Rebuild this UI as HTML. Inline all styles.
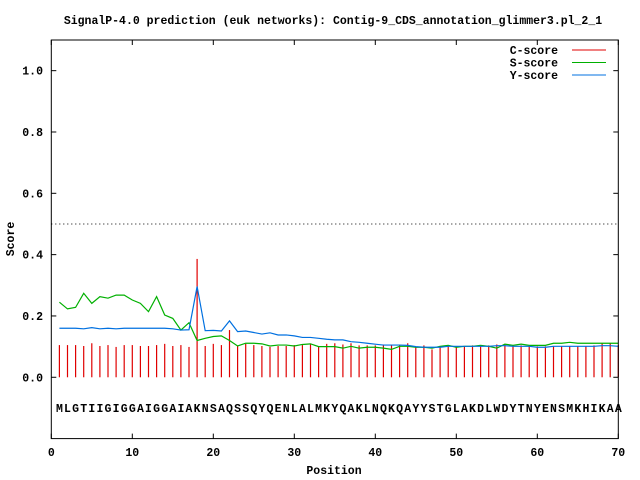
<!DOCTYPE html>
<html><head><meta charset="utf-8"><style>
html,body{margin:0;padding:0;background:#fff;}
svg{display:block;font-family:"Liberation Mono",monospace;font-weight:bold;}
</style></head><body>
<svg id="chart" width="640" height="480" viewBox="0 0 640 480" xmlns="http://www.w3.org/2000/svg">
<rect width="640" height="480" fill="#fff"/>
<text x="333" y="24" font-size="11.5" text-anchor="middle">SignalP-4.0 prediction (euk networks): Contig-9_CDS_annotation_glimmer3.pl_2_1</text>
<text x="334" y="474" font-size="11.5" text-anchor="middle">Position</text>
<text x="14" y="239" font-size="11.5" text-anchor="middle" transform="rotate(-90 14 239)">Score</text>
<g id="plot"></g>
</svg>
<script>
const sequence = "MLGTIIGIGGAIGGAIAKNSAQSSQYQENLALMKYQAKLNQKQAYYSTGLAKDLWDYTNYENSMKHIKAA";
const xTicks = [0,10,20,30,40,50,60,70];
const yTicks = [0.0,0.2,0.4,0.6,0.8,1.0];
const yTickLabels = ["0.0","0.2","0.4","0.6","0.8","1.0"];
const cScore = [0.105,0.105,0.105,0.102,0.111,0.102,0.105,0.099,0.105,0.105,0.102,0.102,0.105,0.109,0.102,0.105,0.099,0.386,0.102,0.109,0.105,0.154,0.102,0.109,0.105,0.102,0.099,0.102,0.102,0.105,0.105,0.109,0.102,0.109,0.111,0.107,0.111,0.104,0.104,0.104,0.107,0.104,0.104,0.111,0.098,0.104,0.091,0.101,0.104,0.101,0.101,0.104,0.104,0.104,0.107,0.107,0.104,0.104,0.101,0.101,0.101,0.101,0.101,0.101,0.101,0.101,0.104,0.111,0.111,0.105];
const sScore = [0.245,0.223,0.228,0.274,0.241,0.263,0.258,0.268,0.268,0.252,0.241,0.214,0.263,0.203,0.192,0.154,0.178,0.120,0.127,0.133,0.135,0.120,0.102,0.111,0.111,0.109,0.102,0.105,0.105,0.102,0.107,0.109,0.100,0.100,0.100,0.095,0.101,0.095,0.098,0.098,0.095,0.091,0.101,0.101,0.098,0.098,0.095,0.101,0.104,0.098,0.101,0.101,0.104,0.101,0.095,0.108,0.104,0.108,0.104,0.104,0.104,0.111,0.111,0.114,0.111,0.111,0.111,0.111,0.111,0.111];
const yScore = [0.160,0.160,0.160,0.158,0.162,0.158,0.160,0.158,0.160,0.160,0.160,0.160,0.160,0.160,0.158,0.154,0.155,0.296,0.152,0.153,0.151,0.184,0.149,0.151,0.146,0.141,0.145,0.138,0.138,0.135,0.130,0.130,0.127,0.124,0.122,0.122,0.116,0.114,0.111,0.108,0.105,0.105,0.105,0.104,0.100,0.098,0.098,0.098,0.101,0.101,0.101,0.101,0.101,0.101,0.103,0.103,0.101,0.101,0.101,0.098,0.098,0.101,0.101,0.101,0.101,0.101,0.101,0.103,0.103,0.101];
const threshold = 0.5;

const L=51.3,R=618.3,T=40,B=438.6;
const xMin=0,xMax=70,yMin=-0.2,yMax=1.1;
const xs=v=>L+(v-xMin)/(xMax-xMin)*(R-L);
const ys=v=>B-(v-yMin)/(yMax-yMin)*(B-T);
const NS="http://www.w3.org/2000/svg";
const g=document.getElementById('plot');
function mk(tag,attrs,parent){const e=document.createElementNS(NS,tag);for(const k in attrs)e.setAttribute(k,attrs[k]);(parent||g).appendChild(e);return e;}

// threshold
let th=mk('line',{x1:L,x2:R,y1:ys(threshold),y2:ys(threshold),stroke:'#000','stroke-width':1,'stroke-dasharray':'1,3'});



// C-score impulses
cScore.forEach((v,i)=>{
  const x=xs(i+1);
  const b=mk('line',{x1:x,x2:x,y1:ys(0),y2:ys(v),stroke:'#e00000','stroke-width':1.2});
  
  
});
function poly(arr,color,name){
  const p=mk('polyline',{points:arr.map((v,i)=>xs(i+1)+','+ys(v)).join(' '),fill:'none',stroke:color,'stroke-width':1.2});
  
  
}
poly(sScore,'#00b000','s-score-line');
poly(yScore,'#0070e0','y-score-line');

// sequence letters
sequence.split('').forEach((c,i)=>{
  const t=mk('text',{x:xs(i+1),y:412,'font-size':11.5,'text-anchor':'middle'});
  t.textContent=c;
  
  
});

// frame
const f=mk('rect',{x:L,y:T,width:R-L,height:B-T,fill:'none',stroke:'#000','stroke-width':1});



xTicks.forEach(v=>{
  const x=xs(v);
  mk('line',{x1:x,x2:x,y1:B,y2:B-5,stroke:'#000'});
  mk('line',{x1:x,x2:x,y1:T,y2:T+5,stroke:'#000'});
  const t=mk('text',{x:x,y:456,'font-size':11.5,'text-anchor':'middle'});
  t.textContent=String(v);
  
  
});
yTicks.forEach((v,i)=>{
  const y=ys(v);
  mk('line',{x1:L,x2:L+5,y1:y,y2:y,stroke:'#000'});
  mk('line',{x1:R,x2:R-5,y1:y,y2:y,stroke:'#000'});
  const t=mk('text',{x:43,y:y+4,'font-size':11.5,'text-anchor':'end'});
  t.textContent=yTickLabels[i];
  
  
});

// legend
const legend=[["C-score",'#e00000'],["S-score",'#00b000'],["Y-score",'#0070e0']];
legend.forEach((d,i)=>{
  const y=50+i*12.5;
  const t=mk('text',{x:558,y:y+4,'font-size':11.5,'text-anchor':'end'});
  t.textContent=d[0];
  
  
  const l=mk('line',{x1:572,x2:606,y1:y,y2:y,stroke:d[1],'stroke-width':1});
  
  
});
</script>
</body></html>
